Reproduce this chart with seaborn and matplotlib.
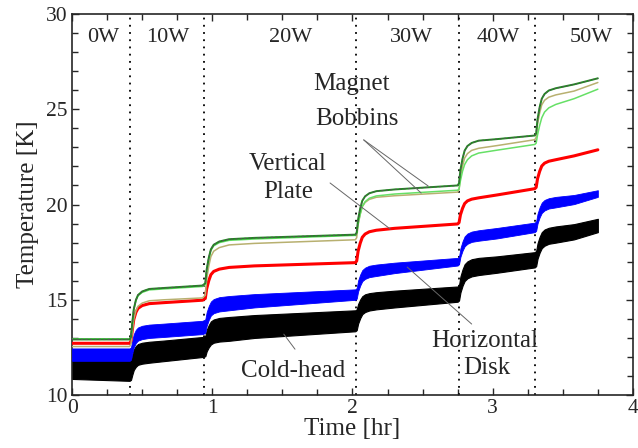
"""Temperature history of the test coil for each heat-load step."""
import pandas as pd
import seaborn as sns
import matplotlib.pyplot as plt
from matplotlib.ticker import MultipleLocator

# time points [hr]
time_hr = [0.00, 0.41,
           0.42, 0.43, 0.44, 0.455, 0.47, 0.50, 0.55, 0.65, 0.93,
           0.95, 0.96, 0.975, 0.99, 1.01, 1.05, 1.12, 1.30, 2.02,
           2.03, 2.04, 2.055, 2.07, 2.09, 2.12, 2.17, 2.30, 2.75,
           2.76, 2.77, 2.785, 2.80, 2.82, 2.85, 2.90, 3.03, 3.30,
           3.31, 3.32, 3.335, 3.35, 3.37, 3.40, 3.45, 3.58, 3.75]

# cold-head band (lower / upper edge) [K]
coldhead_lo = [10.85, 10.75,
               10.80, 11.08, 11.32, 11.49, 11.59, 11.65, 11.70, 11.78, 12.00,
               12.04, 12.30, 12.51, 12.66, 12.75, 12.81, 12.85, 13.00, 13.35,
               13.41, 13.75, 14.04, 14.25, 14.36, 14.44, 14.50, 14.60, 14.90,
               14.97, 15.39, 15.74, 15.99, 16.13, 16.23, 16.30, 16.42, 16.70,
               16.77, 17.16, 17.48, 17.71, 17.84, 17.94, 18.00, 18.17, 18.55]
coldhead_hi = [11.80, 11.80,
               11.85, 12.15, 12.40, 12.58, 12.68, 12.75, 12.80, 12.86, 13.05,
               13.10, 13.42, 13.68, 13.87, 13.97, 14.05, 14.10, 14.20, 14.45,
               14.50, 14.78, 15.02, 15.19, 15.29, 15.35, 15.40, 15.48, 15.70,
               15.78, 16.23, 16.60, 16.87, 17.02, 17.13, 17.20, 17.28, 17.50,
               17.57, 17.97, 18.31, 18.55, 18.69, 18.78, 18.85, 18.97, 19.25]

# horizontal disk band
disk_lo = [11.80, 11.80,
           11.86, 12.22, 12.52, 12.74, 12.86, 12.94, 13.00, 13.05, 13.20,
           13.26, 13.64, 13.95, 14.18, 14.30, 14.39, 14.45, 14.60, 15.00,
           15.06, 15.44, 15.75, 15.98, 16.10, 16.19, 16.25, 16.40, 16.80,
           16.87, 17.26, 17.58, 17.81, 17.94, 18.04, 18.10, 18.22, 18.55,
           18.62, 19.01, 19.33, 19.56, 19.69, 19.79, 19.85, 20.02, 20.40]
disk_hi = [12.45, 12.45,
           12.51, 12.89, 13.20, 13.43, 13.55, 13.64, 13.70, 13.75, 13.90,
           13.97, 14.36, 14.68, 14.91, 15.04, 15.14, 15.20, 15.30, 15.55,
           15.62, 16.01, 16.33, 16.56, 16.69, 16.79, 16.85, 16.95, 17.20,
           17.27, 17.71, 18.07, 18.33, 18.48, 18.58, 18.65, 18.77, 19.05,
           19.12, 19.52, 19.86, 20.10, 20.24, 20.33, 20.40, 20.50, 20.75]

# vertical plate
plate = [12.72, 12.72,
         12.82, 13.45, 13.97, 14.34, 14.55, 14.70, 14.80, 14.85, 14.98,
         15.07, 15.58, 16.01, 16.32, 16.49, 16.61, 16.70, 16.78, 16.95,
         17.04, 17.55, 17.97, 18.28, 18.45, 18.57, 18.65, 18.75, 18.98,
         19.05, 19.46, 19.80, 20.05, 20.19, 20.28, 20.35, 20.50, 20.83,
         20.90, 21.36, 21.74, 22.02, 22.17, 22.27, 22.35, 22.55, 22.87]

# magnet bobbins (three sensors)
bobbin_a = [12.92, 12.92,
            13.05, 13.85, 14.51, 14.99, 15.25, 15.44, 15.57, 15.62, 15.75,
            15.87, 16.60, 17.21, 17.65, 17.89, 18.06, 18.18, 18.25, 18.42,
            18.53, 19.22, 19.79, 20.20, 20.43, 20.59, 20.70, 20.79, 21.00,
            21.12, 21.82, 22.41, 22.83, 23.07, 23.23, 23.35, 23.43, 23.62,
            23.74, 24.49, 25.11, 25.55, 25.80, 25.98, 26.10, 26.30, 26.62]
bobbin_b = [12.55, 12.55,
            12.67, 13.39, 13.99, 14.42, 14.66, 14.83, 14.95, 15.00, 15.10,
            15.24, 16.07, 16.77, 17.27, 17.55, 17.74, 17.88, 17.96, 18.15,
            18.26, 18.93, 19.49, 19.89, 20.11, 20.27, 20.38, 20.46, 20.65,
            20.77, 21.46, 22.03, 22.44, 22.67, 22.84, 22.95, 23.09, 23.40,
            23.52, 24.22, 24.81, 25.23, 25.47, 25.63, 25.75, 25.95, 26.40]
bobbin_c = [12.95, 12.95,
            13.08, 13.85, 14.49, 14.95, 15.21, 15.39, 15.52, 15.57, 15.70,
            15.82, 16.55, 17.15, 17.59, 17.83, 18.00, 18.12, 18.19, 18.38,
            18.48, 19.00, 19.50, 19.90, 20.15, 20.33, 20.45, 20.55, 20.75,
            20.82, 21.25, 21.75, 22.10, 22.35, 22.55, 22.70, 22.85, 23.15,
            23.22, 23.65, 24.15, 24.55, 24.85, 25.07, 25.25, 25.55, 26.05]

# heat-load steps
step_times = [0.414, 0.943, 2.026, 2.757, 3.305]
step_labels = ['0W', '10W', '20W', '30W', '40W', '50W']
step_label_x = [0.22, 0.68, 1.56, 2.42, 3.04, 3.70]

sns.set_style('ticks')
plt.rcParams['font.family'] = ['Liberation Serif', 'DejaVu Serif']

df = pd.DataFrame({
    'time': time_hr, 'plate': plate,
    'bob_a': bobbin_a, 'bob_b': bobbin_b, 'bob_c': bobbin_c,
})

fig = plt.figure(figsize=(6.38, 4.48), dpi=100)
ax = fig.add_axes([0.113, 0.118, 0.879, 0.851])

# noisy bands
ax.fill_between(time_hr, coldhead_lo, coldhead_hi, color='black', lw=0.8, zorder=2)
ax.fill_between(time_hr, disk_lo, disk_hi, color='#0000ff', lw=0.6, zorder=3)

sns.lineplot(data=df, x='time', y='plate', ax=ax, color='#ff0000', lw=2.2, sort=False, zorder=4)
sns.lineplot(data=df, x='time', y='bob_b', ax=ax, color='#b8b070', lw=1.1, sort=False, zorder=5)
sns.lineplot(data=df, x='time', y='bob_c', ax=ax, color='#66e066', lw=1.1, sort=False, zorder=5)
sns.lineplot(data=df, x='time', y='bob_a', ax=ax, color='#1f8a1f', lw=1.4, sort=False, zorder=6)
sns.lineplot(data=df, x='time', y='bob_a', ax=ax, color='#555555', lw=0.8, sort=False,
             zorder=7, linestyle=(0, (2, 2)))

for t in step_times:
    ax.axvline(t, color='black', ls=(0, (1, 3)), lw=1.3, zorder=1)
for lab, x in zip(step_labels, step_label_x):
    ax.text(x, 28.75, lab, ha='center', va='center', fontsize=16)

# labels with leader lines
fs = 18
lead = dict(color='#666666', lw=0.7, zorder=8)
ax.text(1.99, 26.33, 'Magnet', ha='center', va='center', fontsize=fs)
ax.text(2.03, 24.49, 'Bobbins', ha='center', va='center', fontsize=fs)
ax.plot([2.08, 2.54], [23.39, 20.97], **lead)
ax.plot([2.08, 2.49], [23.39, 20.60], **lead)
ax.text(1.54, 22.13, 'Vertical', ha='center', va='center', fontsize=fs)
ax.text(1.54, 20.66, 'Plate', ha='center', va='center', fontsize=fs)
ax.plot([1.84, 2.27], [21.13, 18.71], **lead)
ax.text(1.58, 11.26, 'Cold-head', ha='center', va='center', fontsize=fs)
ax.plot([1.51, 1.59], [13.20, 12.41], **lead)
ax.text(2.94, 12.83, 'Horizontal', ha='center', va='center', fontsize=fs)
ax.text(2.96, 11.42, 'Disk', ha='center', va='center', fontsize=fs)
ax.plot([2.39, 2.85], [16.72, 13.73], **lead)

ax.set_xlim(0, 4)
ax.set_ylim(10, 30)
ax.xaxis.set_major_locator(MultipleLocator(1))
ax.xaxis.set_minor_locator(MultipleLocator(0.25))
ax.yaxis.set_major_locator(MultipleLocator(5))
ax.yaxis.set_minor_locator(MultipleLocator(1))
ax.tick_params(which='both', direction='in', top=True, right=True, labelsize=15.5, width=1.0)
ax.tick_params(which='major', length=5, pad=3)
ax.tick_params(which='minor', length=4)
for s in ax.spines.values():
    s.set_linewidth(1.2)
ax.set_xlabel('Time [hr]', fontsize=18, labelpad=0)
ax.set_ylabel('Temperature [K]', fontsize=18, labelpad=5)

fig.savefig('out.png', dpi=100)
plt.close(fig)
